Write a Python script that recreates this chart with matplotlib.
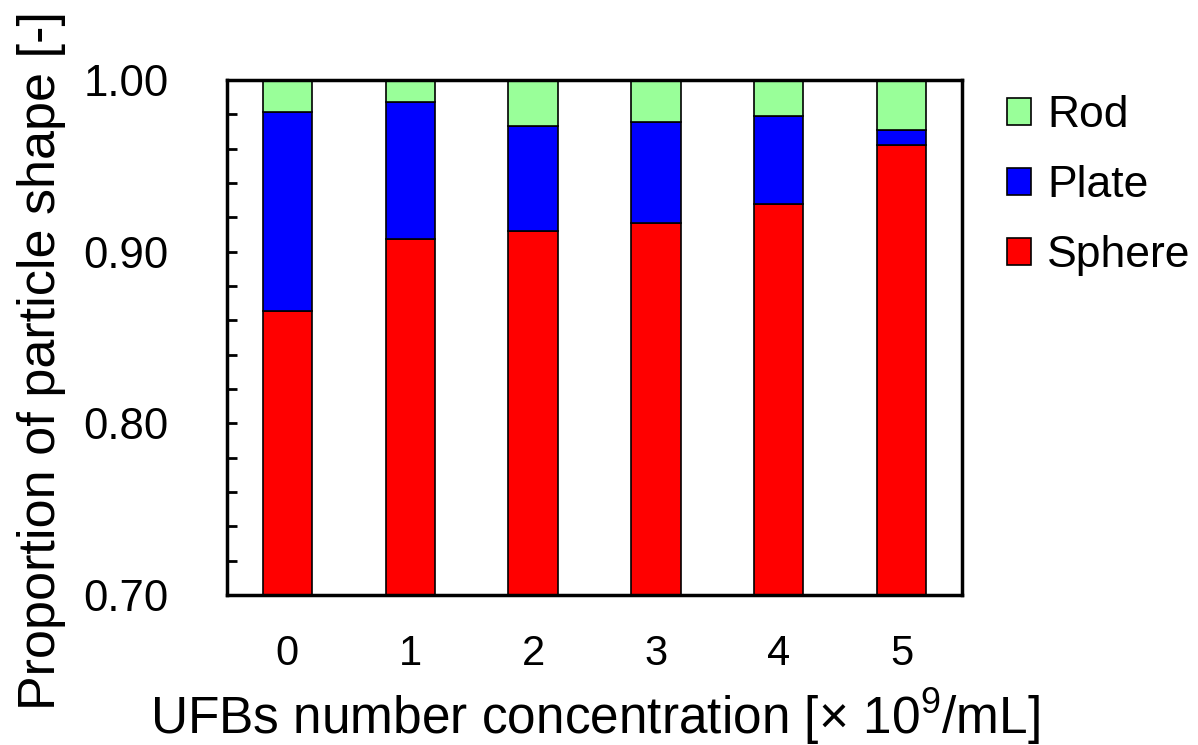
import matplotlib
matplotlib.use("Agg")
import matplotlib.pyplot as plt
from matplotlib.ticker import MultipleLocator, FormatStrFormatter
import numpy as np

plt.rcParams['font.family'] = ['Liberation Sans', 'DejaVu Sans']
plt.rcParams['mathtext.fontset'] = 'custom'
plt.rcParams['mathtext.rm'] = 'Liberation Sans'
plt.rcParams['mathtext.default'] = 'regular'

categories = ['0', '1', '2', '3', '4', '5']
sphere = [0.8655, 0.9076, 0.9120, 0.9167, 0.9280, 0.9620]
plate_top = [0.9814, 0.9870, 0.9734, 0.9757, 0.9790, 0.9709]
plate = [p - s for p, s in zip(plate_top, sphere)]
rod = [1.0 - p for p in plate_top]

fig = plt.figure(figsize=(11.98, 7.45), dpi=100)
left, right, top, bottom = 227, 962, 80, 595
ax = fig.add_axes([left / 1198, 1 - bottom / 745, (right - left) / 1198, (bottom - top) / 745])

x = np.arange(len(categories))
w = 0.40
b1 = ax.bar(x, sphere, w, color='#ff0000', edgecolor='black', linewidth=1.2, label='Sphere', zorder=2)
b2 = ax.bar(x, plate, w, bottom=sphere, color='#0000ff', edgecolor='black', linewidth=1.2, label='Plate', zorder=2)
b3 = ax.bar(x, rod, w, bottom=plate_top, color='#99ff99', edgecolor='black', linewidth=1.2, label='Rod', zorder=2)

ax.set_xlim(-0.49, 5.49)
ax.set_ylim(0.70, 1.00)
ax.yaxis.set_major_locator(MultipleLocator(0.10))
ax.yaxis.set_minor_locator(MultipleLocator(0.02))
ax.yaxis.set_major_formatter(FormatStrFormatter('%.2f'))
ax.set_xticks(x)
ax.set_xticklabels(categories)
ax.tick_params(axis='y', which='both', direction='in', length=7, width=2, labelsize=31.5, pad=42, right=False)
ax.tick_params(axis='x', length=0, labelsize=30, pad=28)
for s in ax.spines.values():
    s.set_linewidth(2.5)

ax.set_ylabel('Proportion of particle shape [-]', fontsize=37.5)
ax.yaxis.set_label_coords((66 - left) / (right - left), (bottom - 360) / (bottom - top))
ax.set_xlabel('UFBs number concentration [× $10^{9}$/mL]', fontsize=37)
ax.xaxis.set_label_coords(0.5, (bottom - 686) / (bottom - top))

handles = [b3, b2, b1]
leg = ax.legend(handles, ['Rod', 'Plate', 'Sphere'], loc='upper left', bbox_to_anchor=(1.037, 1.005),
                frameon=False, fontsize=32, handlelength=0.55, handleheight=0.55, handletextpad=0.36,
                labelspacing=0.65, borderaxespad=0)

fig.savefig('out.png', dpi=100)
